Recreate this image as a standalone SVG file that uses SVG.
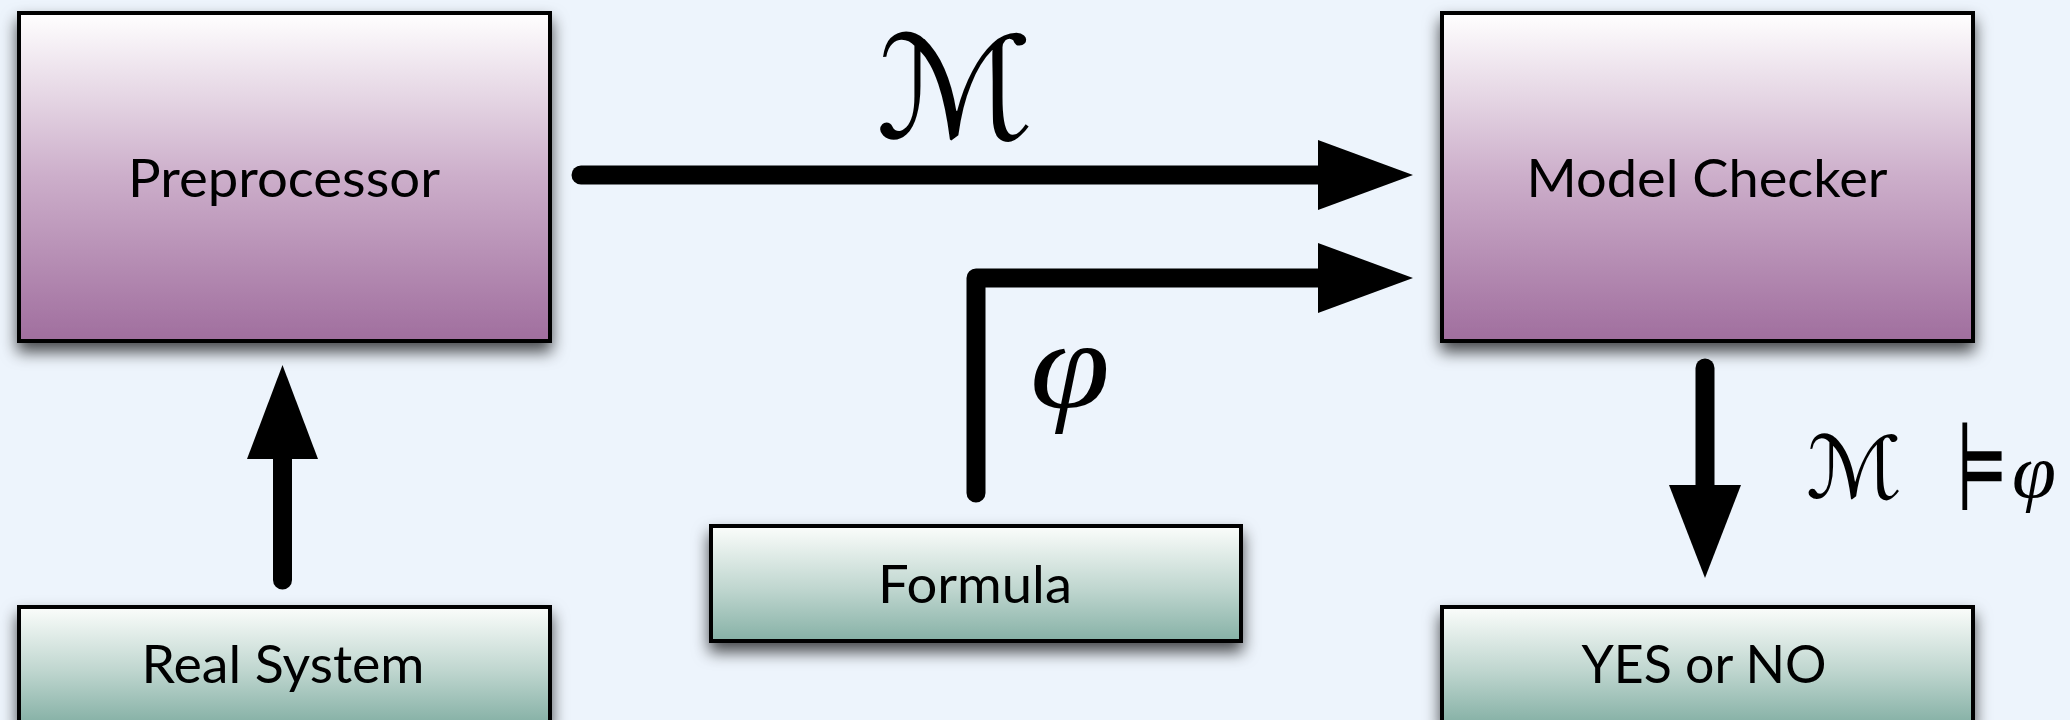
<svg xmlns="http://www.w3.org/2000/svg" width="2070" height="720" viewBox="0 0 2070 720">
<style>
.box{stroke:#000;stroke-width:4;filter:url(#sh)}
.purple{fill:url(#gp)}
.green{fill:url(#gg)}
.lbl{font-family:Lato,"Open Sans","Liberation Sans",sans-serif;font-size:53px;fill:#000;text-anchor:middle}
.math{font-family:"DejaVu Serif","DejaVu Sans",serif;fill:#000}
.phi{font-family:"Liberation Serif","DejaVu Serif",serif;font-style:italic;fill:#000}
.shaft{fill:none;stroke:#000;stroke-width:19;stroke-linecap:round;stroke-linejoin:round}
.head{fill:#000}
</style>
<defs>
<linearGradient id="gp" x1="0" y1="0" x2="0" y2="1">
<stop offset="0" stop-color="#FFFFFF"/>
<stop offset="0.5" stop-color="#CCAECA"/>
<stop offset="1" stop-color="#A06E9E"/>
</linearGradient>
<linearGradient id="gg" x1="0" y1="0" x2="0" y2="1">
<stop offset="0" stop-color="#FBFDFB"/>
<stop offset="0.55" stop-color="#BFD6CF"/>
<stop offset="1" stop-color="#86B1A6"/>
</linearGradient>
<filter id="sh" x="-10%" y="-10%" width="120%" height="140%">
<feDropShadow dx="0" dy="9" stdDeviation="8" flood-color="#000" flood-opacity="0.7"/>
</filter>
</defs>
<rect x="0" y="0" width="2070" height="720" fill="#EDF4FC"/>

<g id="preprocessor">
<rect class="box purple" x="19" y="13" width="531" height="328"/>
<text class="lbl" x="284" y="197" textLength="312" lengthAdjust="spacingAndGlyphs">Preprocessor</text>
</g>
<g id="model-checker">
<rect class="box purple" x="1442" y="13" width="531" height="328"/>
<text class="lbl" x="1707" y="197" textLength="361" lengthAdjust="spacingAndGlyphs">Model Checker</text>
</g>
<g id="real-system">
<rect class="box green" x="19" y="607" width="531" height="116"/>
<text class="lbl" x="283" y="683" textLength="283" lengthAdjust="spacingAndGlyphs">Real System</text>
</g>
<g id="formula">
<rect class="box green" x="711" y="526" width="530" height="115"/>
<text class="lbl" x="975" y="603" textLength="194" lengthAdjust="spacingAndGlyphs">Formula</text>
</g>
<g id="yes-or-no">
<rect class="box green" x="1442" y="607" width="531" height="116"/>
<text class="lbl" x="1704" y="683" textLength="245" lengthAdjust="spacingAndGlyphs">YES or NO</text>
</g>

<g id="connectors">
<line class="shaft" x1="581" y1="175" x2="1322" y2="175"/>
<polygon class="head" points="1318,140 1413,175 1318,210"/>
<path class="shaft" d="M976,493 L976,278 L1322,278"/>
<polygon class="head" points="1318,243 1413,278 1318,313"/>
<line class="shaft" x1="282.5" y1="580" x2="282.5" y2="456"/>
<polygon class="head" points="247,459 282.5,365 318,459"/>
<line class="shaft" x1="1705" y1="368" x2="1705" y2="488"/>
<polygon class="head" points="1669,485 1705,578 1741,485"/>
</g>

<g id="labels">
<text class="math" x="876" y="138" font-size="142" font-style="italic" textLength="158" lengthAdjust="spacingAndGlyphs">ℳ</text>
<text class="phi" x="1030" y="407" font-size="125" textLength="80" lengthAdjust="spacingAndGlyphs">φ</text>
<text class="math" x="1806" y="498" font-size="86" font-style="italic" textLength="96" lengthAdjust="spacingAndGlyphs">ℳ</text>
<text class="math" x="1956" y="510" font-size="120" textLength="52" lengthAdjust="spacingAndGlyphs">⊨</text>
<text class="phi" x="2012" y="497" font-size="76" textLength="44" lengthAdjust="spacingAndGlyphs">φ</text>
</g>
</svg>
